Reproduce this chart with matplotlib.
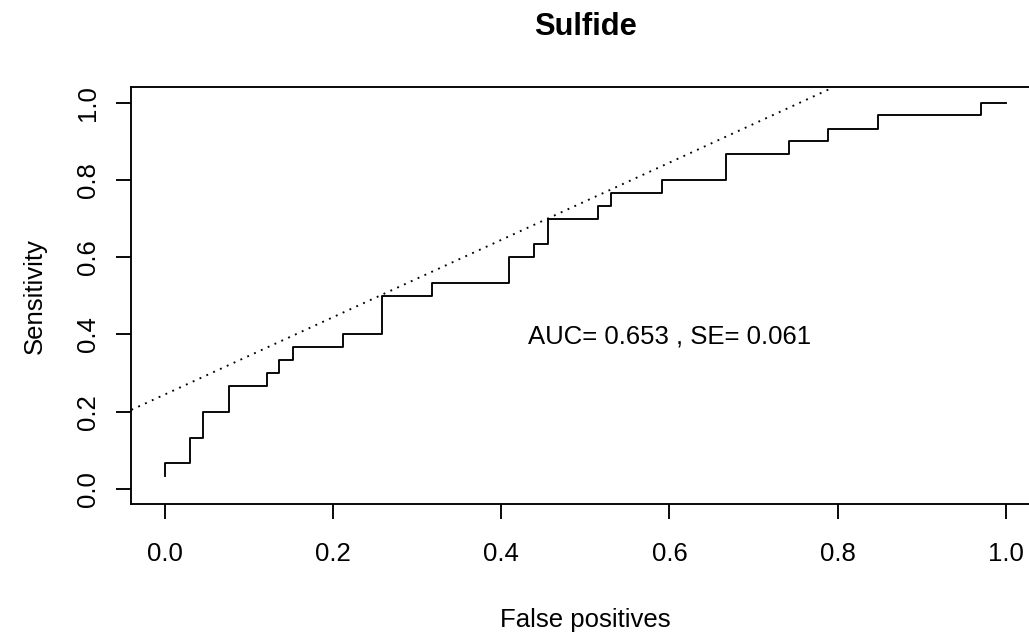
import matplotlib
matplotlib.use("Agg")
import matplotlib.pyplot as plt

plt.rcParams['font.family'] = ['Liberation Sans', 'DejaVu Sans']

# ---- data ----
title = "Sulfide"
x_label = "False positives"
y_label = "Sensitivity"
annotation = "AUC= 0.653 , SE= 0.061"

false_pos = [0.0, 0.0, 0.030, 0.045, 0.076, 0.121, 0.136, 0.152, 0.212, 0.258,
             0.318, 0.409, 0.439, 0.455, 0.515, 0.530, 0.591, 0.667, 0.742,
             0.788, 0.848, 0.970, 1.0]
sensitivity = [0.033, 0.067, 0.133, 0.200, 0.267, 0.300, 0.333, 0.367, 0.400,
               0.500, 0.533, 0.600, 0.633, 0.700, 0.733, 0.767, 0.800, 0.867,
               0.900, 0.933, 0.967, 1.000, 1.000]

ref_intercept = 0.245   # dotted reference line: sensitivity = fp + intercept
ref_slope = 1.0

tick_values = [0.0, 0.2, 0.4, 0.6, 0.8, 1.0]
tick_labels = ["0.0", "0.2", "0.4", "0.6", "0.8", "1.0"]

annot_x, annot_y = 0.6, 0.4

# ---- figure ----
fig = plt.figure(figsize=(10.29, 6.32), dpi=100)
ax = fig.add_axes([0.1277, 0.2018, 0.8824, 0.6601])

lw = 1.35
fs = 18.5

ax.plot(false_pos, sensitivity, drawstyle='steps-post', color='black', lw=lw)
ax.axline((0.0, ref_intercept), slope=ref_slope, color='black', lw=lw,
          linestyle=(0, (1, 3)))

ax.text(annot_x, annot_y, annotation, ha='center', va='center_baseline',
        fontsize=fs, color='black')

ax.set_xlim(-0.04, 1.04)
ax.set_ylim(-0.04, 1.04)

ax.set_xticks(tick_values)
ax.set_xticklabels(tick_labels)
ax.set_yticks(tick_values)
ax.set_yticklabels(tick_labels)

ax.tick_params(axis='both', direction='out', length=10.8, width=lw,
               labelsize=fs, colors='black')
ax.tick_params(axis='x', pad=16.3)
ax.tick_params(axis='y', pad=11.7)
for lab in ax.get_yticklabels():
    lab.set_rotation(90)
    lab.set_va('center')

for sp in ax.spines.values():
    sp.set_linewidth(lw)
    sp.set_color('black')

ax.set_xlabel(x_label, fontsize=fs)
ax.xaxis.set_label_coords(0.5, -0.247)
ax.set_ylabel(y_label, fontsize=fs)
ax.yaxis.set_label_coords(-0.093, 0.5)

ax.set_title(title, fontsize=22.2, fontweight='bold', y=1.125, pad=0)

fig.savefig("out.png", dpi=100)
